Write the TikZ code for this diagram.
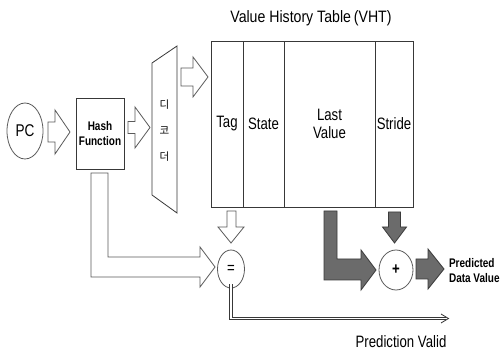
\documentclass[tikz,border=0pt]{standalone}
\usepackage{fontspec}
\setmainfont{Liberation Sans}[FakeStretch=0.8]
\newfontfamily\korfont{Noto Sans CJK KR}
\usetikzlibrary{shapes.geometric}
\definecolor{frame}{HTML}{383838}
\definecolor{outline}{HTML}{5a5a5a}
\definecolor{solidfill}{HTML}{6b6b6b}
\definecolor{solidedge}{HTML}{3a3a3a}
\tikzset{
  box/.style={draw=frame, line width=0.9pt, inner sep=0pt},
  column/.style={box, minimum height=166pt},
  oval/.style={draw=outline, line width=0.8pt, ellipse, inner sep=0pt},
  hollow/.style={draw=outline, line width=0.8pt, fill=white, line join=miter},
  solid/.style={draw=solidedge, line width=0.8pt, fill=solidfill, line join=miter},
  big/.style={font=\fontsize{16.5}{18}\selectfont},
  small/.style={font=\bfseries\fontsize{12.5}{16}\selectfont},
  korean/.style={font=\korfont\fontsize{10.5}{11}\selectfont}
}
\begin{document}
\begin{tikzpicture}[x=1pt,y=-1pt]
\path[use as bounding box, fill=white] (0,0) rectangle (501,352);

% program counter and hash unit
\node[oval, minimum width=36pt, minimum height=56pt, big] (pc) at (25,131) {\fontsize{17}{17}\selectfont PC};
\node[box, minimum width=48pt, minimum height=71pt, small, align=center] (hash) at (100,133.5) {Hash\\[-1pt]Function};

% decoder (trapezoid)
\coordinate (dTL) at (152,63);
\coordinate (dTR) at (177,46);
\coordinate (dBR) at (177,213);
\coordinate (dBL) at (152,195);
\draw[frame, line width=0.8pt] (dTL) -- (dTR) -- (dBR) -- (dBL) -- cycle;
\node[korean] (d1) at (164.5,105) {디};
\node[korean] (d2) at (164.5,130.5) {코};
\node[korean] (d3) at (164.5,157) {더};

% value history table
\node[big] (title) at (311,18) {\scalebox{1.07}[1]{Value History Table\,(VHT)}};
\node[column, minimum width=32pt, big] (tag) at (227,124) {Tag};
\node[column, minimum width=41pt, big] (state) at (263.5,124) {State};
\node[column, minimum width=91pt, big, align=center] (last) at (329.5,124) {Last\\Value};
\node[column, minimum width=38pt, big] (stride) at (394,124) {Stride};

% comparator and adder
\node[oval, minimum width=27pt, minimum height=38pt, big] (eq) at (231,269) {=};
\node[oval, minimum width=34pt, minimum height=40pt, font=\bfseries\fontsize{16.5}{18}\selectfont] (plus) at (396,270) {+};

% hollow block arrows
\draw[hollow] (48,122) -- (55,122) -- (55,110) -- (70,132) -- (55,154) -- (55,142) -- (48,142) -- cycle;
\draw[hollow] (128,121.5) -- (135,121.5) -- (135,107) -- (150,127.5) -- (135,148) -- (135,133.5) -- (128,133.5) -- cycle;
\draw[hollow] (181,68) -- (193,68) -- (193,57) -- (208,77) -- (193,97) -- (193,86) -- (181,86) -- cycle;
\draw[hollow] (227,211) -- (236,211) -- (236,227) -- (244,227) -- (231,243) -- (218,227) -- (227,227) -- cycle;
\draw[hollow] (91,173) -- (108,173) -- (108,257) -- (200,257) -- (200,247) -- (215,267) -- (200,287) -- (200,277) -- (91,277) -- cycle;

% solid block arrows
\draw[solid] (324,211) -- (337,211) -- (337,259) -- (361,259) -- (361,250) -- (376,270) -- (361,290) -- (361,280) -- (324,280) -- cycle;
\draw[solid] (388.5,212) -- (400.5,212) -- (400.5,227) -- (406.5,227) -- (394.5,243) -- (382.5,227) -- (388.5,227) -- cycle;
\draw[solid] (416,259) -- (428,259) -- (428,249) -- (444,269) -- (428,289) -- (428,279) -- (416,279) -- cycle;

% outputs
\node[anchor=west, align=left, font=\bfseries\fontsize{12.5}{15}\selectfont] (pdv) at (445.5,270.5) {Predicted\\Data Value};
\coordinate (pvend) at (446,318.5);
\draw[frame, line width=0.7pt, double=white, double distance=1.8pt] ([yshift=4pt]eq.south) |- (pvend);
\draw[frame, line width=0.8pt] ([xshift=-5pt,yshift=-4.5pt]pvend) -- ([xshift=2.5pt]pvend) -- ([xshift=-5pt,yshift=4.5pt]pvend);
\node[big] (pv) at (401,342) {Prediction Valid};
\end{tikzpicture}
\end{document}
